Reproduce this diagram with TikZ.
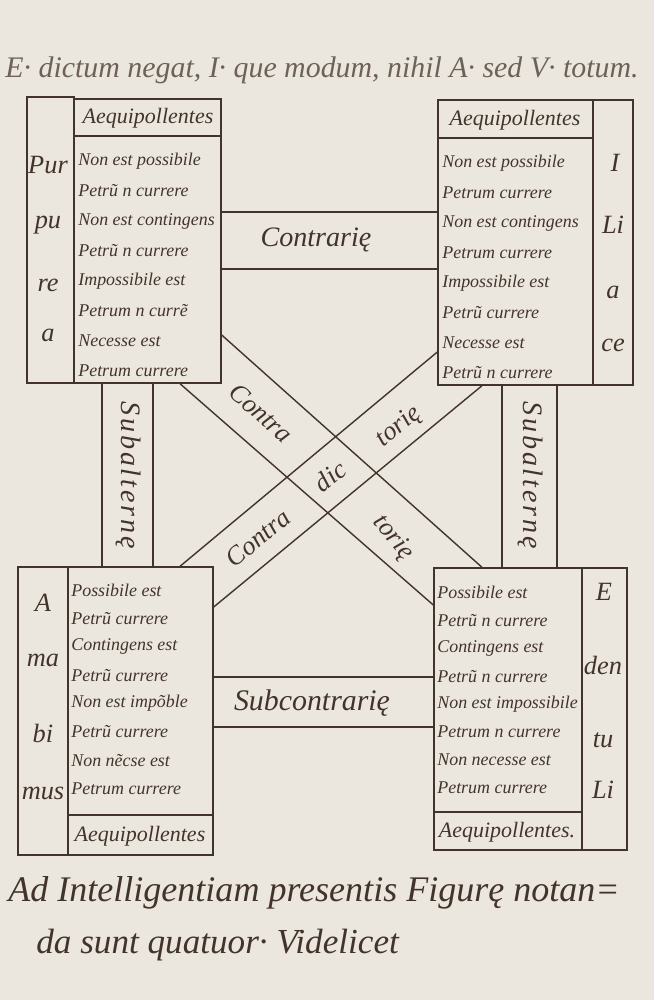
\documentclass[tikz,border=0pt]{standalone}
\usepackage{fontspec}
\setmainfont{Liberation Serif}
\usetikzlibrary{fit}

\definecolor{ink}{HTML}{42332B}
\definecolor{pale}{HTML}{6E6258}
\definecolor{paper}{HTML}{ECE7DE}

\tikzset{
  box/.style={draw=ink, line width=0.8pt, inner sep=0pt},
  rule/.style={draw=ink, line width=0.8pt},
  entry/.style={ink, font=\fontsize{10.2}{12}\selectfont\itshape, anchor=west, inner sep=0pt},
  head/.style={ink, font=\fontsize{12.5}{14}\selectfont\itshape, inner sep=0pt},
  band/.style={ink, font=\fontsize{15}{17}\selectfont\itshape, inner sep=0pt},
  sub/.style={ink, font=\fontsize{16}{18}\selectfont\itshape\addfontfeatures{LetterSpace=10}, inner sep=0pt},
  syl/.style={ink, font=\fontsize{15}{17}\selectfont\itshape, inner sep=0pt},
  note/.style={pale, font=\fontsize{17}{20}\selectfont\itshape, inner sep=0pt}
}

\begin{document}
\begin{tikzpicture}[x=0.2mm, y=-0.2mm]

      \fill[paper] (0,0) rectangle (654,1000);
      \useasboundingbox (0,0) rectangle (654,1000);

      \node (toptext) at (322,70) [note] {E· dictum negat, I· que modum, nihil A· sed V· totum.};

      %%% Purpurea (top left) %%%
      \node (purcol) [box, fit={(27,97) (74,383)}] {};
      \node (pur) [box, fit={(74,99) (221,383)}] {};
      \draw[rule] (pur.west |- 0,136) -- (pur.east |- 0,136);
      \node (purhead) at (148,118) [head] {Aequipollentes};
      \foreach \txt [count=\i] in {Non est possibile, Petrũ n currere,
          Non est contingens, Petrũ n currere, Impossibile est,
          Petrum n currẽ, Necesse est, Petrum currere}
        \node (pur\i) at (78,131+30*\i) [entry] {\txt};
      \node at (48,165) [syl] {Pur};
      \node at (48,225) [syl] {pu};
      \node at (48,285) [syl] {re};
      \node at (48,335) [syl] {a};

      %%% Iliace (top right) %%%
      \node (ili) [box, fit={(438,100) (593,385)}] {};
      \node (ilicol) [box, fit={(593,100) (633,385)}] {};
      \draw[rule] (ili.west |- 0,138) -- (ili.east |- 0,138);
      \node (ilihead) at (515,120) [head] {Aequipollentes};
      \foreach \txt [count=\i] in {Non est possibile, Petrum currere,
          Non est contingens, Petrum currere, Impossibile est,
          Petrũ currere, Necesse est, Petrũ n currere}
        \node (ili\i) at (442,133+30*\i) [entry] {\txt};
      \node at (615,163) [syl] {I};
      \node at (613,225) [syl] {Li};
      \node at (613,292) [syl] {a};
      \node at (613,345) [syl] {ce};

      %%% Amabimus (bottom left) %%%
      \node (amacol) [box, fit={(18,567) (68,855)}] {};
      \node (ama) [box, fit={(68,567) (213,855)}] {};
      \draw[rule] (ama.west |- 0,815) -- (ama.east |- 0,815);
      \node (amafoot) at (140,836) [head] {Aequipollentes};
      \foreach \txt [count=\i] in {Possibile est, Petrũ currere,
          Contingens est, Petrũ currere, Non est impõble,
          Petrũ currere, Non nẽcse est, Petrum currere}
        \node (ama\i) at (71,562+28.3*\i) [entry] {\txt};
      \node at (43,603) [syl] {A};
      \node at (43,660) [syl] {ma};
      \node at (43,733) [syl] {bi};
      \node at (43,793) [syl] {mus};

      %%% Edentuli (bottom right) %%%
      \node (ede) [box, fit={(434,568) (582,850)}] {};
      \node (edecol) [box, fit={(582,568) (627,850)}] {};
      \draw[rule] (ede.west |- 0,812) -- (ede.east |- 0,812);
      \node (edefoot) at (507,832) [head] {Aequipollentes.};
      \foreach \txt [count=\i] in {Possibile est, Petrũ n currere,
          Contingens est, Petrũ n currere, Non est impossibile,
          Petrum n currere, Non necesse est, Petrum currere}
        \node (ede\i) at (437,565+27.8*\i) [entry] {\txt};
      \node at (604,592) [syl] {E};
      \node at (603,665) [syl] {den};
      \node at (603,740) [syl] {tu};
      \node at (603,790) [syl] {Li};

      % contrarie and subcontrarie
      \draw[rule]
      (pur.east |- 0,212) to (ili.west |- 0,212)
      (pur.east |- 0,269) to (ili.west |- 0,269)
      (ama.east |- 0,677) to (ede.west |- 0,677)
      (ama.east |- 0,727) to (ede.west |- 0,727);
      \node (contr) at (316,240) [band, font=\fontsize{16}{18}\selectfont\itshape] {Contrarię};
      \node (subcontr) at (312,703) [band, font=\fontsize{17}{19}\selectfont\itshape] {Subcontrarię};

      % subalterne
      \draw[rule]
      (pur.south -| 102,0) to (ama.north -| 102,0)
      (pur.south -| 153,0) to (ama.north -| 153,0)
      (ili.south -| 502,0) to (ede.north -| 502,0)
      (ili.south -| 557,0) to (ede.north -| 557,0);
      \node (subL) at (128,475) [sub, rotate=-90] {Subalternę};
      \node (subR) at (530,475) [sub, rotate=-90] {Subalternę};

      % contradictorie
      \draw[rule]
      (pur.east |- 0,335) to (ede.north -| 482,0)
      (pur.south -| 180,0) to (ede.west |- 0,605)
      (ili.west |- 0,352) to (ama.north -| 180,0)
      (ili.south -| 482,0) to (ama.east |- 0,607);
      \node (cdA) at (261,413) [band, rotate=-42] {Contra};
      \node (cdB) at (399,427) [band, rotate=40] {torię};
      \node (cdC) at (330,476) [band, rotate=38] {dic};
      \node (cdD) at (258,538) [band, rotate=40] {Contra};
      \node (cdE) at (393,538) [band, rotate=-50] {torię};

      \node (bot1) at (8,893) [note, ink, anchor=west, font=\fontsize{20.5}{22}\selectfont\itshape] {Ad Intelligentiam presentis Figurę notan=};
      \node (bot2) at (36,945) [note, ink, anchor=west, font=\fontsize{20}{22}\selectfont\itshape] {da sunt quatuor· Videlicet};

\end{tikzpicture}
\end{document}
